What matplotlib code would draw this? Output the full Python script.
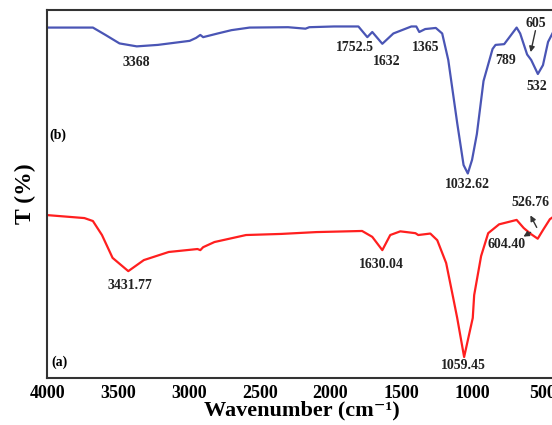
import matplotlib
matplotlib.use('Agg')
from matplotlib import pyplot as plt

# FTIR spectra (wavenumber in cm-1, transmittance in arbitrary %)
wn_b = [4000, 3679, 3590, 3491, 3369, 3220, 2995, 2950, 2920, 2900, 2797, 2700,
        2572, 2300, 2177, 2150, 1976, 1803, 1740, 1705, 1634, 1556, 1429, 1394,
        1373, 1331, 1256, 1211, 1168, 1105, 1060, 1030, 1000, 966, 919, 855,
        834, 773, 724, 685, 660, 611, 582, 535, 499, 463, 420]
t_b = [95.1, 95.1, 93.1, 90.8, 90.0, 90.4, 91.5, 92.3, 93.1, 92.5, 93.5, 94.4,
       95.1, 95.2, 94.8, 95.2, 95.4, 95.4, 92.5, 93.9, 90.7, 93.5, 95.4, 95.4,
       93.9, 94.7, 95.0, 93.5, 86.3, 69.2, 57.8, 55.5, 59.2, 66.2, 80.6, 89.3,
       90.4, 90.6, 93.1, 95.1, 93.5, 87.8, 86.3, 82.5, 84.9, 91.2, 94.4]

wn_a = [4000, 3739, 3679, 3615, 3540, 3429, 3319, 3143, 2940, 2920, 2900, 2820,
        2597, 2348, 2099, 1777, 1705, 1634, 1578, 1507, 1400, 1380, 1295, 1246,
        1183, 1133, 1105, 1056, 995, 985, 936, 886, 809, 685, 635, 585, 536,
        498, 450, 420]
t_a = [44.2, 43.4, 42.6, 38.8, 32.6, 29.0, 32.0, 34.2, 35.0, 34.7, 35.5, 36.9,
       38.8, 39.1, 39.6, 39.9, 38.3, 34.7, 38.8, 39.8, 39.3, 38.8, 39.2, 37.4,
       31.2, 21.7, 16.3, 5.7, 16.3, 22.5, 33.1, 39.3, 41.7, 42.9, 40.7, 39.1,
       37.8, 40.2, 43.1, 43.9]

ticks = [4000, 3500, 3000, 2500, 2000, 1500, 1000, 500]

# peak labels: (text, x, y)
labels_b = [("3368", 3369, 85.6), ("1752.5", 1827, 89.6), ("1632", 1606, 85.8),
            ("1365", 1331, 89.8), ("789", 760, 86.3), ("605", 548, 96.1),
            ("532", 541, 79.2), ("1032.62", 1035, 52.6)]
labels_a = [("3431.77", 3418, 25.0), ("1630.04", 1641, 30.7),
            ("1059.45", 1063, 3.3), ("526.76", 590, 47.5), ("604.40", 753, 36.1)]

serif = ['Liberation Serif', 'DejaVu Serif']

fig = plt.figure(figsize=(5.52, 4.25), dpi=100)
ax = fig.add_axes([0.086, 0.1106, 0.923, 0.867])

ax.plot(wn_b, t_b, color='#4a55b5', lw=1.6)
ax.plot(wn_a, t_a, color='#ff1f1f', lw=1.6)

ax.set_xlim(4000, 400)
ax.set_ylim(0, 100)
ax.set_xticks(ticks)
ax.set_xticklabels([str(t) for t in ticks], fontfamily=serif,
                   fontweight='bold', fontsize=13)
ax.set_yticks([])
ax.tick_params(axis='x', length=0, pad=5)
for s in ['top', 'bottom', 'left']:
    ax.spines[s].set_linewidth(1.5)
    ax.spines[s].set_color('#333333')
ax.spines['right'].set_visible(False)

ax.set_xlabel('Wavenumber (cm\u207b\u00b9)', fontfamily=serif,
              fontweight='bold', fontsize=16)
ax.xaxis.set_label_coords(0.5, -0.062)
ax.set_ylabel('T (%)', fontfamily=serif, fontweight='bold', fontsize=17,
              labelpad=8)

for txt, x, y in labels_b + labels_a:
    ax.text(x, y, txt, ha='center', va='center', fontfamily=serif,
            fontweight='bold', fontsize=10, color='#222222')

ax.text(3985, 66, '(b)', ha='left', va='center', fontfamily=serif,
        fontweight='bold', fontsize=10)
ax.text(3975, 4.3, '(a)', ha='left', va='center', fontfamily=serif,
        fontweight='bold', fontsize=10)

arr = dict(arrowstyle='-|>', color='#333333', lw=1.0, mutation_scale=8)
ax.annotate('', xy=(590, 87.7), xytext=(548, 95.0), arrowprops=arr)
ax.annotate('', xy=(597, 44.8), xytext=(534, 40.2), arrowprops=arr)
ax.annotate('', xy=(654, 38.0), xytext=(569, 39.9), arrowprops=arr)

fig.savefig('out.png', dpi=100)
